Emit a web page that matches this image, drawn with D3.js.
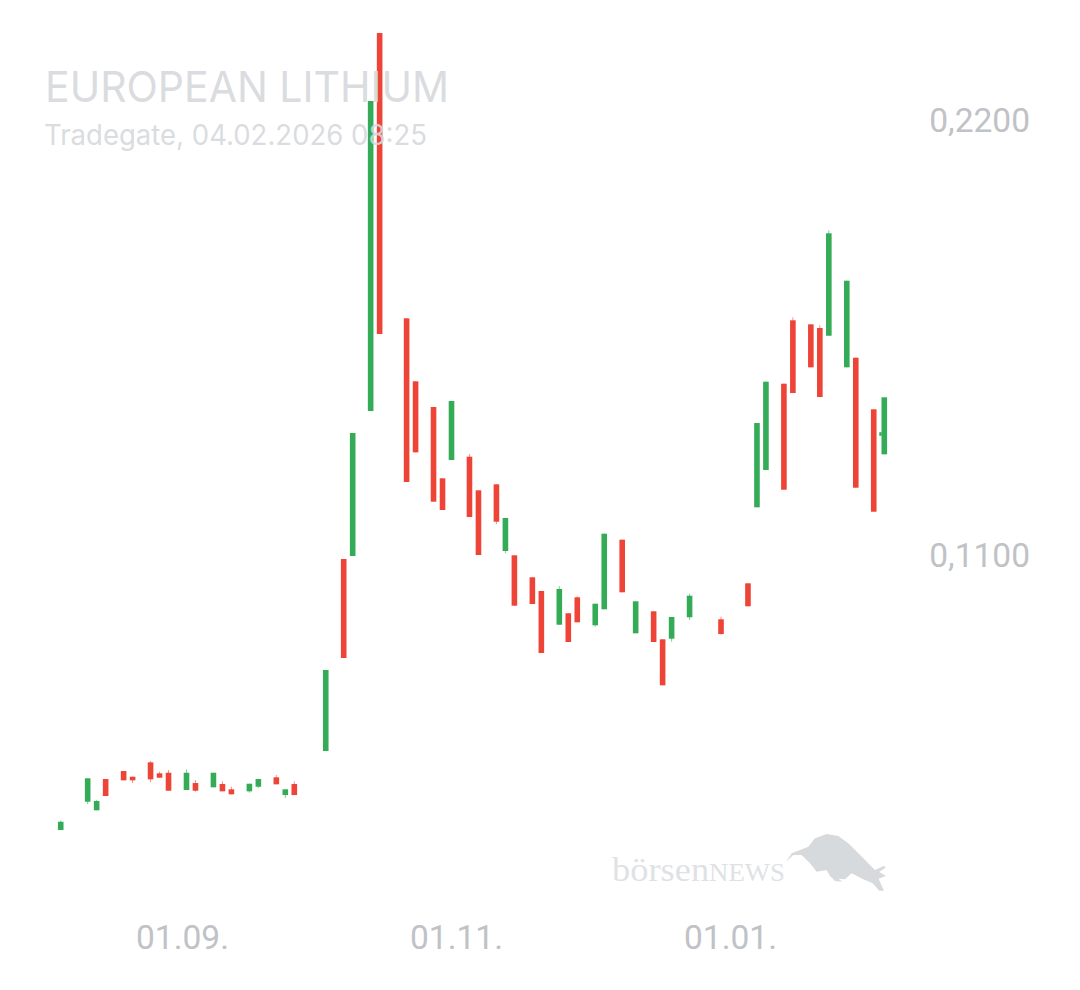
<!DOCTYPE html>
<html><head><meta charset="utf-8">
<script src="https://cdn.jsdelivr.net/npm/d3@7/dist/d3.min.js"></script>
<style>html,body{margin:0;padding:0;background:#fff}svg{display:block}</style>
</head><body><svg id="c" width="1080" height="990"></svg>
<script>
const title="EUROPEAN LITHIUM";
const subtitle="Tradegate, 04.02.2026 08:25";
const dates=["2025-08-05","2025-08-11","2025-08-13","2025-08-15","2025-08-19","2025-08-21","2025-08-25","2025-08-27","2025-08-29","2025-09-02","2025-09-04","2025-09-08","2025-09-10","2025-09-12","2025-09-16","2025-09-18","2025-09-22","2025-09-24","2025-09-26","2025-10-03","2025-10-07","2025-10-09","2025-10-13","2025-10-15","2025-10-21","2025-10-23","2025-10-27","2025-10-29","2025-10-31","2025-11-04","2025-11-06","2025-11-10","2025-11-12","2025-11-14","2025-11-18","2025-11-20","2025-11-24","2025-11-26","2025-11-28","2025-12-02","2025-12-04","2025-12-08","2025-12-11","2025-12-15","2025-12-17","2025-12-19","2025-12-23","2025-12-30","2026-01-05","2026-01-07","2026-01-09","2026-01-13","2026-01-15","2026-01-19","2026-01-21","2026-01-23","2026-01-27","2026-01-29","2026-02-02","2026-02-04T08:25"];
const opens=[.04045,.04761,.04544,.05335,.05537,.05393,.05757,.05479,.05494,.05057,.05234,.05125,.05209,.05075,.05024,.05140,.05378,.04930,.05209,.06044,.10899,.10975,.14641,.24199,.16985,.15392,.14742,.12939,.13402,.13486,.12636,.12787,.11101,.10992,.10436,.10090,.09237,.09526,.09930,.09222,.09627,.11387,.09020,.09576,.08868,.08883,.09425,.09374,.10284,.12206,.13149,.15332,.16935,.16833,.16740,.16545,.15746,.15989,.14684,.13546];
const closes=[.04255,.05353,.04779,.04905,.05302,.05302,.05327,.05368,.05039,.05494,.05039,.05494,.05024,.04948,.05216,.05335,.05201,.05075,.04930,.08092,.08395,.14085,.22480,.16588,.12846,.13596,.12348,.12138,.14894,.11961,.11000,.11842,.11936,.09718,.09761,.08522,.10140,.08800,.09298,.09768,.11539,.10057,.09829,.08800,.07705,.09432,.09971,.09002,.09703,.14337,.15382,.12651,.15096,.15746,.14995,.19135,.17936,.12702,.12095,.14987];
const highs=[.04286,.05353,.04804,.05335,.05537,.05393,.05790,.05520,.05563,.05580,.05310,.05494,.05277,.05140,.05216,.05335,.05436,.05075,.05277,.08092,.10899,.14085,.22480,.24199,.16985,.15392,.14742,.12939,.14894,.13554,.12636,.12787,.11936,.10992,.10436,.10090,.10216,.09526,.09956,.09768,.11539,.11387,.09829,.09576,.08868,.09432,.10021,.09440,.10284,.14337,.15382,.15332,.17010,.16833,.16808,.19211,.17936,.15989,.14684,.14987];
const lows=[.04045,.04703,.04544,.04905,.05302,.05234,.05252,.05368,.05039,.05057,.05014,.05125,.05024,.04948,.04989,.05107,.05201,.04855,.04930,.06044,.08395,.10975,.14641,.16588,.12846,.13596,.12348,.12138,.13402,.11961,.11000,.11784,.11043,.09718,.09761,.08522,.09237,.08800,.09298,.09187,.09627,.10057,.09020,.08800,.07705,.08807,.09356,.08985,.09703,.12206,.13149,.12651,.15096,.15746,.14995,.16545,.15746,.12702,.12095,.13546];
const lastQuote=.14060;
const xTicks=["2025-09-01","2025-11-01","2026-01-01"];
const yTicks=[.11,.22];

const upColor="#34ab56", downColor="#ee4437", axisColor="#bfc2c6", brandColor="#d5d8dc";
const parseDate=s=>new Date(s+(s.length>10?":00Z":"T00:00:00Z"));
const x=d3.scaleUtc().domain([parseDate(xTicks[0]),parseDate(xTicks[2])]).range([182,730]);
const y=d3.scaleLinear().domain([yTicks[0],yTicks[1]]).range([555,120]);
const svg=d3.select("#c");
const candles=dates.map((d,i)=>({date:parseDate(d),o:opens[i],c:closes[i],h:highs[i],l:lows[i]}));
const col=d=>d.c>=d.o?upColor:downColor;
const bw=5.6;
const g=svg.append("g");
g.selectAll("line.w").data(candles).join("line").attr("class","w")
 .attr("x1",d=>x(d.date)).attr("x2",d=>x(d.date)).attr("y1",d=>y(d.h)).attr("y2",d=>y(d.l))
 .attr("stroke",col).attr("stroke-width",1).attr("stroke-opacity",.6);
g.selectAll("rect.b").data(candles).join("rect").attr("class","b")
 .attr("x",d=>x(d.date)-bw/2).attr("width",bw)
 .attr("y",d=>y(Math.max(d.o,d.c))).attr("height",d=>Math.abs(y(d.o)-y(d.c)))
 .attr("fill",col);
const last=candles[candles.length-1];
g.append("rect").attr("x",x(last.date)-bw/2-2.2).attr("width",2.4).attr("y",y(lastQuote)-1.8).attr("height",3.6).attr("fill",upColor);

const yAxis=d3.axisRight(y).tickValues(yTicks).tickSize(0).tickPadding(0).tickFormat(v=>d3.format(".4f")(v).replace(".",","));
const ya=svg.append("g").attr("transform","translate(1030,1)").call(yAxis);
ya.select(".domain").remove();
ya.selectAll("text").attr("text-anchor","end").attr("x",0).attr("fill",axisColor).style("font","33.5px Roboto");
const xAxis=d3.axisBottom(x).tickValues(xTicks.map(parseDate)).tickSize(0).tickPadding(0).tickFormat(d3.utcFormat("%d.%m."));
const xa=svg.append("g").attr("transform","translate(0,925)").call(xAxis);
xa.select(".domain").remove();
xa.selectAll("text").attr("fill",axisColor).style("font","33.5px Roboto");

svg.append("text").attr("x",45).attr("y",102).attr("fill",brandColor).attr("fill-opacity",.9)
 .attr("textLength",404).attr("lengthAdjust","spacingAndGlyphs")
 .style("font","400 42.5px Inter").text(title);
svg.append("text").attr("x",44).attr("y",145).attr("fill",brandColor).attr("fill-opacity",.9)
 .attr("textLength",383).attr("lengthAdjust","spacingAndGlyphs")
 .style("font","400 28px Inter").text(subtitle);

const logo=svg.append("g");
const t=logo.append("text").attr("x",612).attr("y",881).attr("fill","#dfe2e5")
 .attr("textLength",173).attr("lengthAdjust","spacingAndGlyphs").style("font","34px 'Liberation Serif'");
t.append("tspan").text("börsen");
t.append("tspan").style("font-size","25px").text("NEWS");
const bull=[[558,125],[575,100],[600,90],[625,80],[645,55],[680,42],[715,48],[745,70],[790,115],[825,150],[850,138],[858,142],[838,156],[858,168],[836,176],[852,212],[838,212],[818,190],[790,178],[755,160],[735,178],[715,176],[728,185],[705,183],[690,168],[680,150],[650,155],[630,130],[605,105],[580,105]];
logo.append("path").attr("transform","translate(600,820) scale(0.3333)")
 .attr("d",d3.line().curve(d3.curveLinearClosed)(bull)).attr("fill","#d7dadd");
</script></body></html>
